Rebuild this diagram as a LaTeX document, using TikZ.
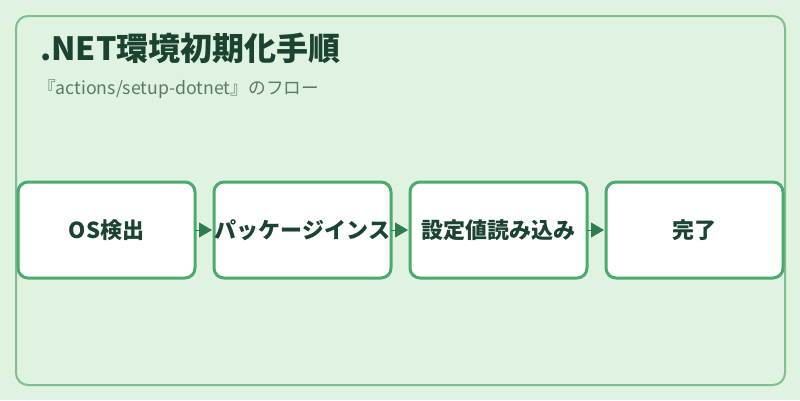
\documentclass[tikz,border=0pt]{standalone}
\usepackage{fontspec}
\setmainfont{Noto Sans CJK JP}
\usetikzlibrary{arrows.meta}
\definecolor{bgc}{HTML}{E0F2E0}
\definecolor{framec}{HTML}{7EBE92}
\definecolor{boxc}{HTML}{4CAA6E}
\definecolor{arrc}{HTML}{2E7D50}
\definecolor{txtc}{HTML}{1B4332}
\definecolor{subc}{HTML}{5B7A66}
\tikzset{
  stepbox/.style={draw=boxc, line width=3pt, fill=white, rounded corners=10pt,
    minimum width=177pt, minimum height=96pt, inner sep=0pt, outer sep=0pt,
    font=\fontsize{22}{26}\selectfont\bfseries, text=txtc},
  flowarrow/.style={draw=arrc, line width=0.8pt, -{Triangle[length=13pt,width=15pt]}, shorten >=2pt, arrc},
}
\begin{document}
\begin{tikzpicture}[x=1pt,y=-1pt]
\useasboundingbox (0,0) rectangle (800,400);
\fill[bgc] (0,0) rectangle (800,400);
\draw[framec, line width=2pt, rounded corners=12pt] (16,16) rectangle (785,385);
\node[anchor=base west, inner sep=0pt, text=txtc, font=\fontsize{32}{36}\selectfont\bfseries] (title) at (40,60) {.NET環境初期化手順};
\node[anchor=base west, inner sep=0pt, text=subc, font=\fontsize{17.7}{21}\selectfont] (sub) at (38,94) {『actions/setup-dotnet』のフロー};
\node[stepbox] (b1) at (106.5,230) {OS検出};
\node[stepbox] (b2) at (302.5,230) {パッケージインス};
\node[stepbox] (b3) at (498.5,230) {設定値読み込み};
\node[stepbox] (b4) at (694.5,230) {完了};
\draw[flowarrow] (b1.east) -- (b2.west);
\draw[flowarrow] (b2.east) -- (b3.west);
\draw[flowarrow] (b3.east) -- (b4.west);
\end{tikzpicture}
\end{document}
